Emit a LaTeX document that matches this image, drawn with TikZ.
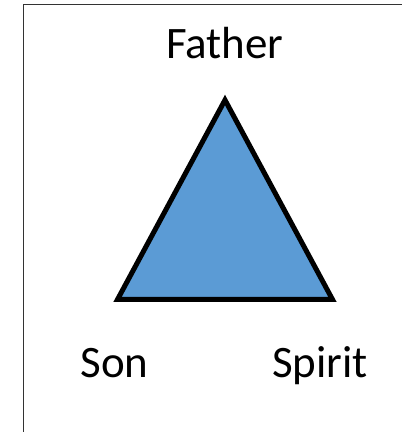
\documentclass[tikz,border=0pt]{standalone}
\usepackage{fontspec}
\setmainfont{Carlito}
\definecolor{triblue}{HTML}{5B9BD5}
\begin{document}
\begin{tikzpicture}[x=1pt,y=1pt,
  label/.style={anchor=base,inner sep=0pt,font=\fontsize{45}{54}\selectfont},
  tri/.style={draw=black,line width=5pt,fill=triblue,line join=miter}]
\useasboundingbox (0,0) rectangle (402,432);
\draw[line width=1pt,draw=black!80] (23,-5) -- (23,427) -- (410,427);
\coordinate (apex) at (225,332);
\coordinate (bl) at (117.5,132.5);
\coordinate (br) at (332.5,132.5);
\draw[tri] (apex) -- (bl) -- (br) -- cycle;
\node[label] (father) at (225,373) {Father};
\node[label] (son) at (114.5,55) {Son};
\node[label] (spirit) at (320,55) {Spirit};
\end{tikzpicture}
\end{document}
